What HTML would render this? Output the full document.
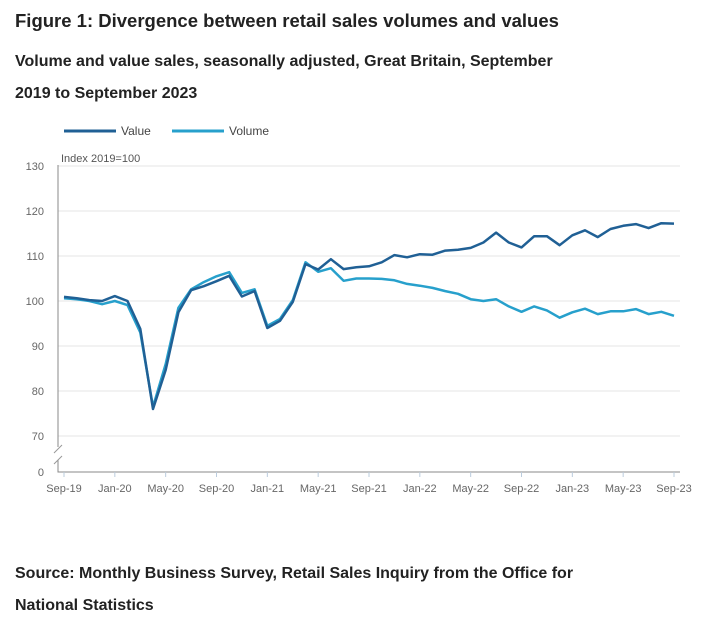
<!DOCTYPE html>
<html><head><meta charset="utf-8"><style>
body{margin:0;background:#fff;font-family:"Liberation Sans",sans-serif;color:#222;}
.t{position:absolute;left:15px;font-weight:bold;}
</style></head><body>
<div style="position:relative;width:711px;height:623px;overflow:hidden">
<div class="t" style="top:10px;font-size:18.5px">Figure 1: Divergence between retail sales volumes and values</div>
<div class="t" style="top:46px;font-size:16px;line-height:32px;width:575px">Volume and value sales, seasonally adjusted, Great Britain, September 2019 to September 2023</div>
<div class="t" style="top:558px;font-size:16px;line-height:32px;width:600px">Source: Monthly Business Survey, Retail Sales Inquiry from the Office for National Statistics</div>
<svg id="c" width="711" height="623" style="position:absolute;left:0;top:0"></svg>
</div>
<script>
const months=["Sep-19","Jan-20","May-20","Sep-20","Jan-21","May-21","Sep-21","Jan-22","May-22","Sep-22","Jan-23","May-23","Sep-23"];
const valueSeries=[100.9,100.6,100.2,100,101.1,100,93.8,76,84.7,97.5,102.4,103.3,104.4,105.6,101,102.2,94,95.6,99.8,108.2,107,109.3,107.1,107.5,107.7,108.6,110.2,109.7,110.4,110.3,111.2,111.4,111.8,113,115.2,113,111.9,114.4,114.4,112.4,114.6,115.7,114.2,116,116.7,117.1,116.2,117.3,117.2];
const volumeSeries=[100.6,100.4,100,99.3,100,99.1,93,76.5,86,98.5,102.6,104.2,105.5,106.4,101.8,102.6,94.5,96,100.2,108.6,106.5,107.3,104.5,105,105,104.9,104.6,103.8,103.4,102.9,102.2,101.6,100.4,100,100.4,98.8,97.6,98.8,97.9,96.3,97.5,98.3,97.1,97.7,97.7,98.2,97.1,97.6,96.7];
const yTicks=[70,80,90,100,110,120,130];
const NS="http://www.w3.org/2000/svg",svg=document.getElementById('c');
function mk(t,a,p){const e=document.createElementNS(NS,t);for(const k in a)e.setAttribute(k,a[k]);(p||svg).appendChild(e);return e;}
const x=i=>64+i*(610/48), y=v=>301-(v-100)*4.5;
const left=58,right=680,bot=472;
yTicks.forEach(v=>{
 const g=mk('line',{x1:left,x2:right,y1:y(v),y2:y(v),stroke:'#e6e6e6'});
 
 
 const t=mk('text',{x:44,y:y(v)+4,'text-anchor':'end','font-size':11,fill:'#666'});t.textContent=v;
 
 
});
const z=mk('text',{x:44,y:bot+4,'text-anchor':'end','font-size':11,fill:'#666'});z.textContent='0';


const ax=mk('path',{d:`M${left} 165V447M${left} 460V${bot}H${right}`,stroke:'#888',fill:'none'});


const br=mk('path',{d:`M${left-4} 453L${left+4} 445M${left-4} 464L${left+4} 456`,stroke:'#999',fill:'none'});


const yt=mk('text',{x:61,y:162,'font-size':11,fill:'#555'});yt.textContent='Index 2019=100';


months.forEach((m,k)=>{const i=k*4;
 mk('line',{x1:x(i),x2:x(i),y1:bot,y2:bot+5,stroke:'#bcd'});
 const t=mk('text',{x:x(i),y:bot+20,'text-anchor':'middle','font-size':11,fill:'#666'});t.textContent=m;
 
 
});
function line(d,c,n){const p=mk('path',{d:d.map((v,i)=>(i?'L':'M')+x(i).toFixed(1)+' '+y(v).toFixed(1)).join(''),stroke:c,'stroke-width':2.5,fill:'none','stroke-linejoin':'round'});
 
 }
line(volumeSeries,'#27a0cc','volume-line');
line(valueSeries,'#206095','value-line');
[['Value','#206095',64],['Volume','#27a0cc',172]].forEach(([n,c,lx])=>{
 const g=mk('g',{});
 
 
 mk('line',{x1:lx,x2:lx+52,y1:131,y2:131,stroke:c,'stroke-width':3},g);
 const t=mk('text',{x:lx+57,y:135,'font-size':12,fill:'#444'},g);t.textContent=n;
});
</script>
</body></html>
